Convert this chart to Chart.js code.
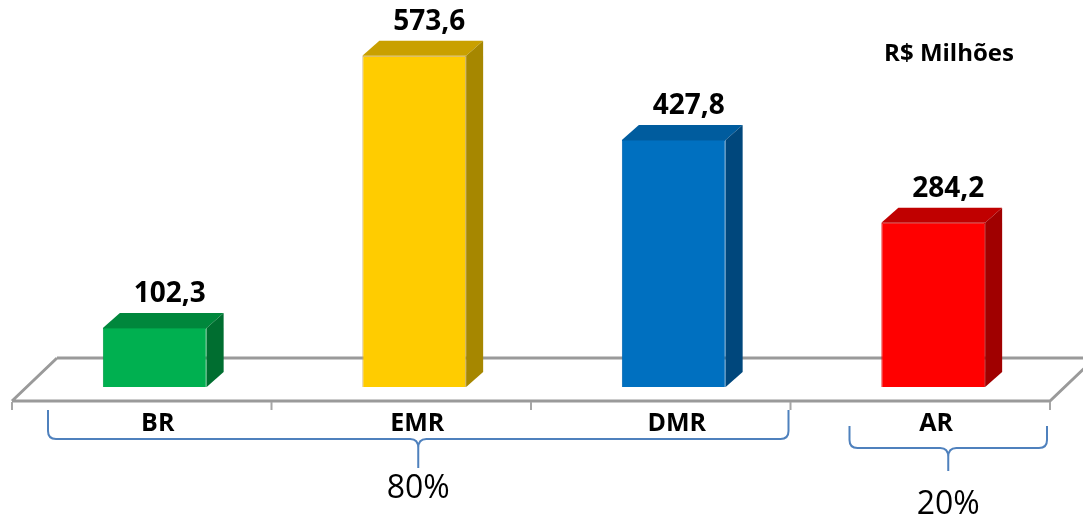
<!DOCTYPE html>
<html>
<head>
<meta charset="utf-8">
<script src="https://cdn.jsdelivr.net/npm/chart.js@4.4.1/dist/chart.umd.min.js"></script>
<style>
  html, body { margin: 0; padding: 0; background: #fff; }
</style>
</head>
<body>
<canvas id="chart" width="1083" height="518"></canvas>
<script>
const categories = ["BR", "EMR", "DMR", "AR"];
const values = [102.3, 573.6, 427.8, 284.2];
const groupLabels = ["80%", "20%"];
const unitLabel = "R$ Milhões";

const frontColors = ["#00B050", "#FFCC00", "#0070C0", "#FF0000"];
const topColors = ["#00873C", "#C9A000", "#005C9E", "#C00000"];
const sideColors = ["#006E30", "#A68700", "#00477C", "#A00000"];
const borderColors = ["#00A048", "#C8A860", "#0066B0", "#E00000"];

const DX = 17, DY = 15;

function fmt(v) { return v.toFixed(1).replace(".", ","); }

function brace(ctx, x1, x2, yTop, yLine, yTip) {
    const r = 8, cx = (x1 + x2) / 2;
    ctx.beginPath();
    ctx.moveTo(x1, yTop);
    ctx.lineTo(x1, yLine - r);
    ctx.quadraticCurveTo(x1, yLine, x1 + r, yLine);
    ctx.lineTo(cx - 8, yLine);
    ctx.quadraticCurveTo(cx, yLine, cx, yLine + 9);
    ctx.lineTo(cx, yTip);
    ctx.moveTo(x2, yTop);
    ctx.lineTo(x2, yLine - r);
    ctx.quadraticCurveTo(x2, yLine, x2 - r, yLine);
    ctx.lineTo(cx + 8, yLine);
    ctx.quadraticCurveTo(cx, yLine, cx, yLine + 9);
    ctx.stroke();
}

const box3d = {
    id: "box3d",
    beforeDatasetsDraw(chart) {
        const ctx = chart.ctx;
        const area = chart.chartArea;
        const xs = chart.scales.x;
        const step = xs.getPixelForValue(1) - xs.getPixelForValue(0);
        const left = xs.getPixelForValue(0) - step / 2 - 13;
        const right = left + step * categories.length;
        const front = area.bottom + 14;
        const back = area.bottom - 29;
        ctx.save();
        ctx.strokeStyle = "#9a9a9a";
        ctx.lineWidth = 3;
        ctx.lineJoin = "round";
        ctx.beginPath();
        ctx.moveTo(left + 45, back);
        ctx.lineTo(chart.width + 50, back);
        ctx.moveTo(left, front);
        ctx.lineTo(left + 45, back);
        ctx.moveTo(left, front);
        ctx.lineTo(right, front);
        ctx.lineTo(right + 45, back);
        ctx.stroke();
        ctx.lineWidth = 2;
        ctx.strokeStyle = "#a6a6a6";
        ctx.beginPath();
        for (let i = 0; i <= categories.length; i++) {
            ctx.moveTo(left + i * step, front + 1);
            ctx.lineTo(left + i * step, front + 9);
        }
        ctx.stroke();
        ctx.restore();
    },
    afterDatasetsDraw(chart) {
        const ctx = chart.ctx;
        const area = chart.chartArea;
        const meta = chart.getDatasetMeta(0);
        ctx.save();
        meta.data.forEach((bar, i) => {
            const p = bar.getProps(["x", "y", "base", "width"], true);
            const l = p.x - p.width / 2, r = p.x + p.width / 2;
            // top face
            ctx.fillStyle = topColors[i];
            ctx.beginPath();
            ctx.moveTo(l, p.y);
            ctx.lineTo(r, p.y);
            ctx.lineTo(r + DX, p.y - DY);
            ctx.lineTo(l + DX, p.y - DY);
            ctx.closePath();
            ctx.fill();
            // side face
            ctx.fillStyle = sideColors[i];
            ctx.beginPath();
            ctx.moveTo(r, p.y);
            ctx.lineTo(r + DX, p.y - DY);
            ctx.lineTo(r + DX, p.base - DY);
            ctx.lineTo(r, p.base);
            ctx.closePath();
            ctx.fill();
            // value
            ctx.fillStyle = "#000";
            ctx.textAlign = "center";
            ctx.textBaseline = "middle";
            ctx.font = "bold 28px 'Open Sans'";
            ctx.fillText(fmt(values[i]), p.x + 15, p.y - DY - 19);
            // category
            ctx.font = "bold 25px 'Open Sans'";
            ctx.fillText(categories[i], p.x + 3, area.bottom + 37);
        });

        const xs = chart.scales.x;
        const step = xs.getPixelForValue(1) - xs.getPixelForValue(0);
        const e0 = xs.getPixelForValue(0) - step / 2;
        const e3 = xs.getPixelForValue(3) - step / 2;
        const e4 = xs.getPixelForValue(3) + step / 2;
        const b = area.bottom;
        ctx.strokeStyle = "#4F81BD";
        ctx.lineWidth = 2;
        brace(ctx, e0 + 23, e3 - 15, b + 23, b + 52, b + 81);
        brace(ctx, e3 + 46, e4 - 16, b + 39, b + 61, b + 84);

        ctx.fillStyle = "#000";
        ctx.font = "32px 'Open Sans'";
        ctx.fillText(groupLabels[0], (e0 + e3 + 8) / 2, b + 102);
        ctx.fillText(groupLabels[1], (e3 + e4 + 30) / 2, b + 118);

        ctx.font = "bold 24px 'Open Sans'";
        ctx.fillText(unitLabel, area.right - 114, 54);
        ctx.restore();
    }
};

new Chart(document.getElementById("chart"), {
    type: "bar",
    data: {
        labels: categories,
        datasets: [{
            data: values,
            backgroundColor: frontColors,
            borderColor: borderColors,
            borderWidth: 1,
            barPercentage: 0.4,
            categoryPercentage: 1
        }]
    },
    options: {
        responsive: false,
        devicePixelRatio: 1,
        animation: false,
        layout: { padding: { left: 25, right: 20, top: 0, bottom: 131 } },
        plugins: { legend: { display: false }, tooltip: { enabled: false } },
        scales: {
            x: { display: false },
            y: { display: false, min: 0, max: 670 }
        }
    },
    plugins: [box3d]
});
</script>
</body>
</html>
